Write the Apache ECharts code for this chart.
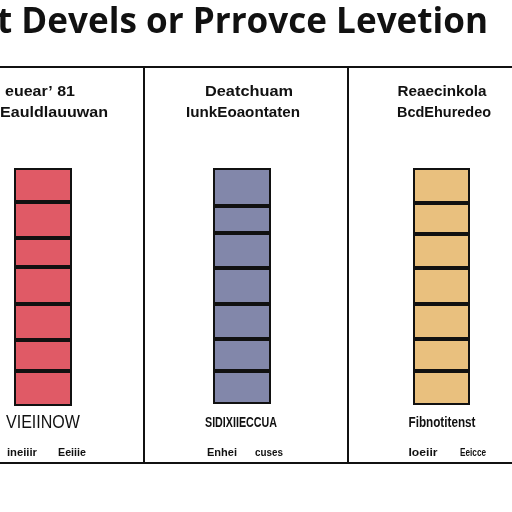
<!DOCTYPE html>
<html><head><meta charset="utf-8">
<script src="https://cdn.jsdelivr.net/npm/echarts@6/dist/echarts.min.js"></script>
<style>html,body{margin:0;padding:0;background:#fff}#c{width:512px;height:512px}</style>
</head><body><div id="c"></div>
<script>
// Data: stacked segment values (bottom to top) per panel
const panelNames = ['VIEIINOW', 'SIDIXIIECCUA', 'Fibnotitenst'];
const redSegments = [35, 31, 36, 37, 29, 36, 34];
const blueSegments = [33, 32, 35, 36, 35, 27, 38];
const yellowSegments = [34, 32, 35, 36, 34, 31, 35];
const headerLine1 = ['euear\u2019 81', 'Deatchuam', 'Reaecinkola'];
const headerLine2 = ['Eauldlauuwan', 'IunkEoaontaten', 'BcdEhuredeo'];
const footLeft = ['ineiiir', 'Enhei', 'Ioeiir'];
const footRight = ['Eeiiie', 'cuses', 'Eeicce'];
const titleText = 't Devels or Prrovce Levetion';

const colors = ['#e05a66', '#8287aa', '#e9c07e'];
const allSegs = [redSegments, blueSegments, yellowSegments];
const gridDefs = [
  {left: 14, width: 58, top: 166, height: 240},
  {left: 213, width: 58, top: 164, height: 240},
  {left: 413, width: 57, top: 165, height: 240}
];
const chart = echarts.init(document.getElementById('c'));
const grids = [], xAxes = [], yAxes = [], series = [];
gridDefs.forEach((g, i) => {
  grids.push(Object.assign({containLabel: false}, g));
  xAxes.push({type: 'category', gridIndex: i, data: [panelNames[i]], show: false});
  yAxes.push({type: 'value', gridIndex: i, min: 0, max: 240, show: false});
  allSegs[i].forEach((v, k) => {
    series.push({
      type: 'bar', xAxisIndex: i, yAxisIndex: i, stack: 'p' + i,
      barWidth: '100%', data: [v], silent: true,
      itemStyle: {color: colors[i], borderColor: '#111', borderWidth: 2}
    });
  });
});
const mctx = document.createElement('canvas').getContext('2d');
const txt = (x, y, t, size, weight, family, align, targetW) => {
  let sx = 1;
  if (targetW) {
    mctx.font = weight + ' ' + size + 'px "' + family + '"';
    sx = targetW / mctx.measureText(t).width;
  }
  return {
    type: 'text', x: x, y: y, scaleX: sx,
    style: {text: t, fontSize: size, fontWeight: weight, fontFamily: family, fill: '#111',
            textAlign: align || 'center', textVerticalAlign: 'middle'}
  };
};
const ln = (x1, y1, x2, y2, w) => ({type: 'line', shape: {x1, y1, x2, y2}, style: {stroke: '#111', lineWidth: w}});
const h1 = [[40, 70], [249, 88], [442, 89]];
const h2 = [[54, 108], [243, 114], [444, 94]];
const bt = [[43, 74], [241, 72], [442, 67]];
const fl = [[22, 30], [222, 30], [423, 29]];
const fr = [[72, 28], [269, 28], [473, 26]];
const graphics = [
  txt(-3, 23, titleText, 35, 'bold', 'Open Sans', 'left', 491),
  ln(0, 67, 512, 67, 2), ln(0, 463, 512, 463, 2),
  ln(144, 67, 144, 463, 2), ln(348, 67, 348, 463, 2)
];
for (let i = 0; i < 3; i++) {
  graphics.push(txt(h1[i][0], 92, headerLine1[i], 14, 'bold', 'Liberation Sans', 'center', h1[i][1]));
  graphics.push(txt(h2[i][0], 113, headerLine2[i], 14, 'bold', 'Liberation Sans', 'center', h2[i][1]));
  graphics.push(txt(bt[i][0], 423, panelNames[i], i === 0 ? 18 : 14, i === 0 ? 'normal' : 'bold', 'Liberation Sans', 'center', bt[i][1]));
  graphics.push(txt(fl[i][0], 453, footLeft[i], 10, 'bold', 'Liberation Sans', 'center', fl[i][1]));
  graphics.push(txt(fr[i][0], 453, footRight[i], 10, 'bold', 'Liberation Sans', 'center', fr[i][1]));
}
chart.setOption({
  animation: false,
  backgroundColor: '#fff',
  grid: grids, xAxis: xAxes, yAxis: yAxes, series: series,
  graphic: graphics
});
</script></body></html>
